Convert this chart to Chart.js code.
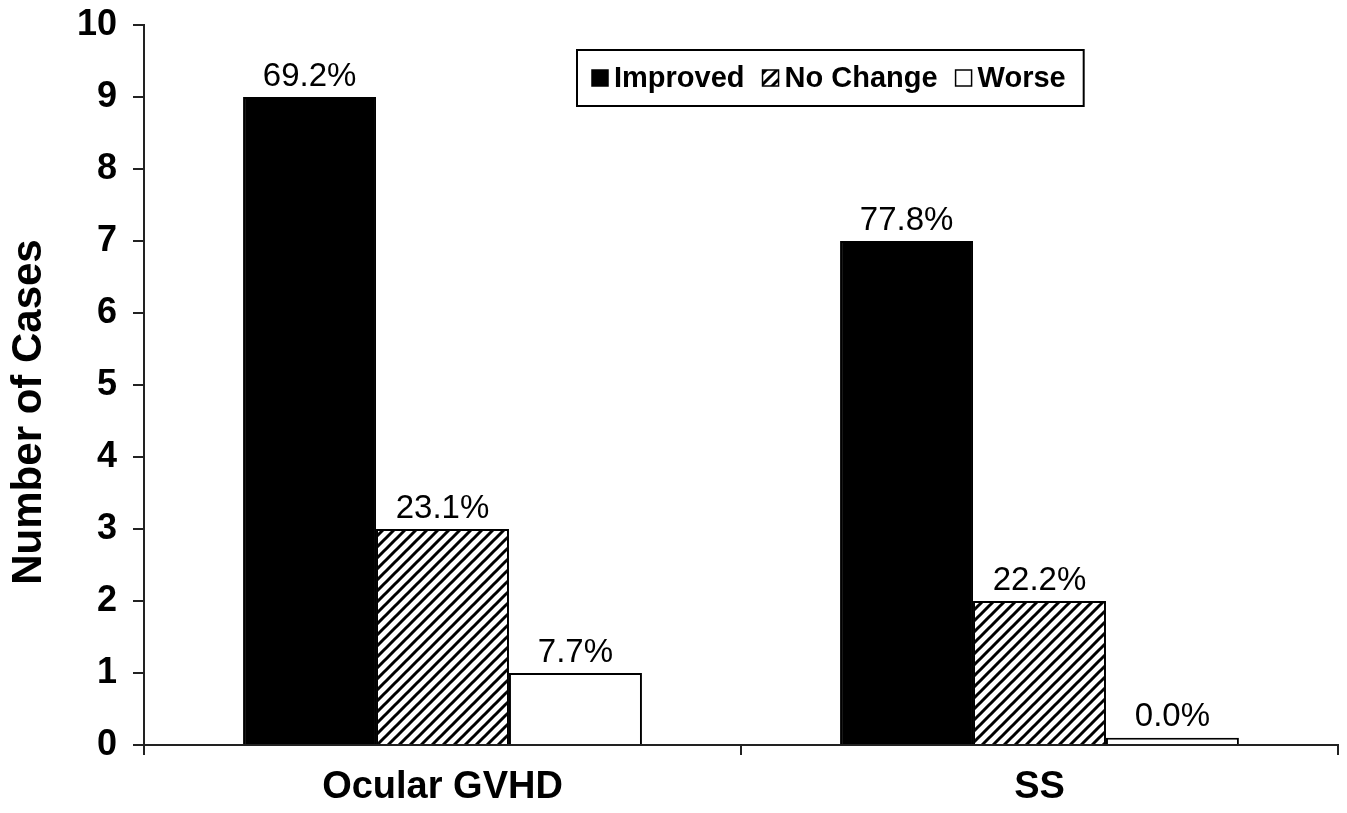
<!DOCTYPE html>
<html>
<head>
<meta charset="utf-8">
<title>Number of Cases</title>
<script src="https://cdn.jsdelivr.net/npm/chart.js@4.4.1/dist/chart.umd.min.js"></script>
<style>
    html, body { margin: 0; padding: 0; background: #fff; }
    #wrap { width: 1347px; height: 813px; }
</style>
</head>
<body>
<div id="wrap"><canvas id="casesChart" width="1347" height="813"></canvas></div>
<script>
// Data
var categories = ['Ocular GVHD', 'SS'];
var seriesNames = ['Improved', 'No Change', 'Worse'];
var improved = [9, 7];
var noChange = [3, 2];
var worse = [1, 0.1];
var improvedPct = ['69.2%', '77.8%'];
var noChangePct = ['23.1%', '22.2%'];
var worsePct = ['7.7%', '0.0%'];
var yTitle = 'Number of Cases';

var FONT = '"Liberation Sans", Arial, sans-serif';

// Hatch pattern for "No Change"
function makeHatch() {
    var size = 11;
    var c = document.createElement('canvas');
    c.width = size; c.height = size;
    var g = c.getContext('2d');
    g.fillStyle = '#fff';
    g.fillRect(0, 0, size, size);
    g.strokeStyle = '#000';
    g.lineWidth = 3;
    g.beginPath();
    g.moveTo(-2, size + 2); g.lineTo(size + 2, -2);
    g.moveTo(-2, 2); g.lineTo(2, -2);
    g.moveTo(size - 2, size + 2); g.lineTo(size + 2, size - 2);
    g.stroke();
    return g.createPattern(c, 'repeat');
}
var hatch = makeHatch();

// Percent labels above each bar
var barLabels = {
    id: 'barLabels',
    afterDatasetsDraw: function (chart) {
        var ctx = chart.ctx;
        ctx.save();
        ctx.font = '33px ' + FONT;
        ctx.fillStyle = '#000';
        ctx.textAlign = 'center';
        ctx.textBaseline = 'bottom';
        chart.data.datasets.forEach(function (ds, i) {
            var meta = chart.getDatasetMeta(i);
            meta.data.forEach(function (bar, j) {
                ctx.fillText(ds.pctLabels[j], bar.x, bar.y - 4);
            });
        });
        ctx.restore();
    }
};

// Y axis title, sitting a bit lower than the axis centre as in the figure
var yAxisTitle = {
    id: 'yAxisTitle',
    afterDraw: function (chart) {
        var ctx = chart.ctx;
        ctx.save();
        ctx.translate(29, 412);
        ctx.rotate(-Math.PI / 2);
        ctx.font = 'bold 42px ' + FONT;
        ctx.fillStyle = '#000';
        ctx.textAlign = 'center';
        ctx.textBaseline = 'middle';
        ctx.fillText(yTitle, 0, 0);
        ctx.restore();
    }
};

// Boxed legend inside the plot
var boxLegend = {
    id: 'boxLegend',
    afterDraw: function (chart) {
        var ctx = chart.ctx;
        var x0 = 577, y0 = 50, h = 56, sq = 16;
        ctx.save();
        ctx.font = 'bold 29px ' + FONT;
        ctx.textBaseline = 'middle';
        var x = x0 + 15;
        var cy = y0 + h / 2;
        chart.data.datasets.forEach(function (ds, i) {
            ctx.fillStyle = ds.backgroundColor;
            ctx.fillRect(x, cy - sq / 2, sq, sq);
            ctx.lineWidth = 1.5;
            ctx.strokeStyle = '#000';
            ctx.strokeRect(x, cy - sq / 2, sq, sq);
            x += sq + 6;
            ctx.fillStyle = '#000';
            ctx.fillText(ds.label, x, cy + 1);
            x += ctx.measureText(ds.label).width + 18;
        });
        var w = x - x0;
        ctx.lineWidth = 2;
        ctx.strokeStyle = '#000';
        ctx.strokeRect(x0, y0, w, h);
        ctx.restore();
    }
};

var ctx = document.getElementById('casesChart').getContext('2d');
var casesChart = new Chart(ctx, {
    type: 'bar',
    data: {
        labels: categories,
        datasets: [{
            label: seriesNames[0],
            data: improved,
            pctLabels: improvedPct,
            backgroundColor: '#000',
            borderColor: '#000',
            borderWidth: 2
        }, {
            label: seriesNames[1],
            data: noChange,
            pctLabels: noChangePct,
            backgroundColor: hatch,
            borderColor: '#000',
            borderWidth: 2
        }, {
            label: seriesNames[2],
            data: worse,
            pctLabels: worsePct,
            backgroundColor: '#fff',
            borderColor: '#000',
            borderWidth: 2
        }]
    },
    options: {
        responsive: false,
        animation: false,
        layout: { padding: { top: 25, right: 9, bottom: 0, left: 0 } },
        plugins: {
            legend: { display: false },
            tooltip: { enabled: false }
        },
        datasets: {
            bar: { categoryPercentage: 0.668, barPercentage: 1.0 }
        },
        scales: {
            x: {
                grid: { drawOnChartArea: false, tickLength: 10, color: '#222', lineWidth: 2, offset: true },
                border: { color: '#222', width: 2 },
                ticks: { color: '#000', font: { family: FONT, size: 38, weight: 'bold' }, padding: 10 },
                afterFit: function (scale) { scale.height = 68; }
            },
            y: {
                min: 0,
                max: 10,
                grid: { drawOnChartArea: false, tickLength: 11, color: '#222', lineWidth: 2 },
                border: { color: '#222', width: 2 },
                ticks: { stepSize: 1, color: '#000', font: { family: FONT, size: 36, weight: 'bold' }, padding: 16 },
                afterFit: function (scale) {
                    scale.width = 144;
                    scale.paddingTop = 0;
                    scale.paddingBottom = 0;
                }
            }
        }
    },
    plugins: [barLabels, yAxisTitle, boxLegend]
});
</script>
</body>
</html>
